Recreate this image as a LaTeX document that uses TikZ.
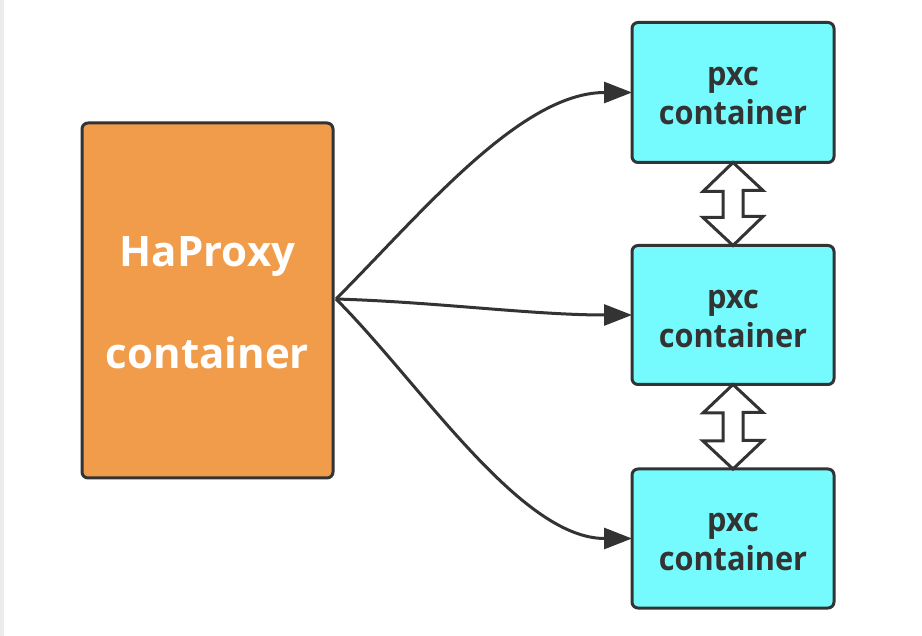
\documentclass[tikz,border=0pt]{standalone}
\usepackage{fontspec}
\setmainfont{Open Sans}
\newfontfamily\pxcfont[FakeStretch=0.93]{Open Sans}
\usetikzlibrary{arrows.meta}
\definecolor{edge}{HTML}{333333}
\definecolor{haorange}{HTML}{F09C4A}
\definecolor{pxccyan}{HTML}{75FBFD}
\definecolor{sidebar}{HTML}{ECECEC}
\newcommand{\toppad}{\rule{0pt}{26pt}}
\tikzset{
  box/.style={draw=edge, line width=3pt, rounded corners=6pt, outer sep=0pt, inner sep=0pt, align=center},
  habox/.style={box, fill=haorange, text=white, minimum width=251pt, minimum height=355pt,
    font={\bfseries\fontsize{42}{102}\selectfont}},
  pxcbox/.style={box, fill=pxccyan, text=edge, minimum width=202pt, minimum height=140pt,
    font={\pxcfont\bfseries\fontsize{33}{39}\selectfont}},
  conn/.style={draw=edge, line width=3pt, -{Triangle[length=28pt,width=21pt]}},
  dbl/.style={draw=edge, fill=white, line width=3pt, line join=miter}
}
\begin{document}
\begin{tikzpicture}[x=1pt,y=-1pt]
\useasboundingbox (0,0) rectangle (922,636);
\fill[white] (0,0) rectangle (922,636);
\fill[sidebar] (0,0) rectangle (4,636);

\node[habox] (ha) at (207.5,300.5) {\rule{0pt}{35pt}HaProxy\\container};
\node[pxcbox] (p1) at (733,92.5) {\toppad pxc\\container};
\node[pxcbox, minimum height=139pt] (p2) at (733,315) {\toppad pxc\\container};
\node[pxcbox, minimum height=139pt] (p3) at (733,538.5) {\toppad pxc\\container};

\coordinate (src) at (336,299);

\draw[conn] (src) .. controls +(84,-84) and +(-112,0) .. (p1.west);
\draw[conn] (src) .. controls +(100,3) and +(-100,0) .. (p2.west);
\draw[conn] (src) .. controls +(84,84) and +(-112,0) .. (p3.west);

\draw[dbl] (p1.south) -- ++(30,28) -- ++(-20,0) -- ++(0,26) -- ++(20,0)
  -- (p2.north) -- ++(-30,-28) -- ++(20,0) -- ++(0,-26) -- ++(-20,0) -- cycle;
\draw[dbl] (p2.south) -- ++(30,28) -- ++(-20,0) -- ++(0,28) -- ++(20,0)
  -- (p3.north) -- ++(-30,-28) -- ++(20,0) -- ++(0,-28) -- ++(-20,0) -- cycle;
\end{tikzpicture}
\end{document}
